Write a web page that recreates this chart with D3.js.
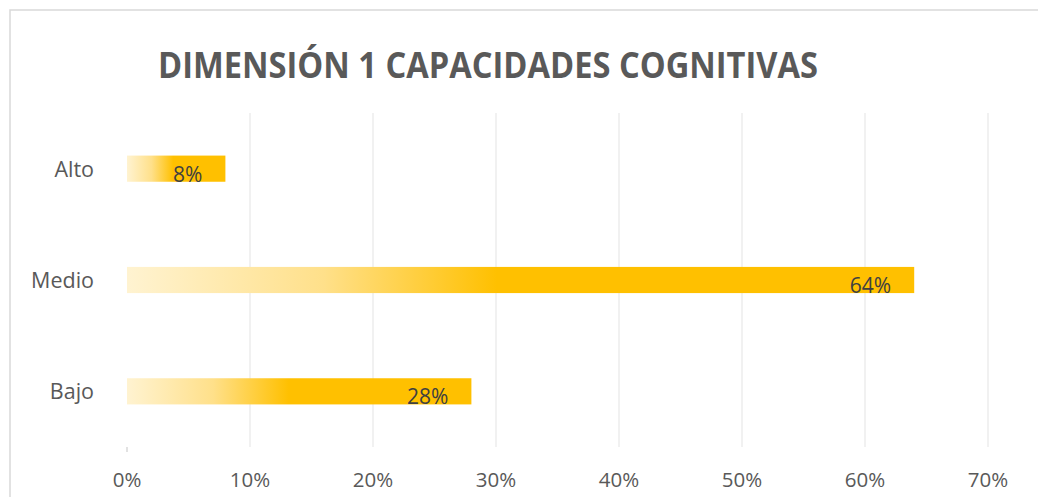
<!DOCTYPE html>
<html>
<head>
<meta charset="utf-8">
<script src="https://cdn.jsdelivr.net/npm/d3@7.9.0/dist/d3.min.js"></script>
<style>
  body { margin: 0; background: #fff; }
  svg text { font-family: "Open Sans", "Noto Sans", sans-serif; }
</style>
</head>
<body>
<svg id="chart"></svg>
<script>
const categories = ["Alto", "Medio", "Bajo"];
const values = [0.08, 0.64, 0.28];
const labels = ["8%", "64%", "28%"];
const ticks = [0, 0.1, 0.2, 0.3, 0.4, 0.5, 0.6, 0.7];
const title = "DIMENSIÓN 1 CAPACIDADES COGNITIVAS";

const width = 1038, height = 497;
const margin = {top: 113, left: 127, right: 50, bottom: 50};
const plotW = 988 - margin.left, plotH = 447 - margin.top;

const svg = d3.select("#chart").attr("width", width).attr("height", height);

// chart frame
svg.append("rect")
    .attr("x", 10).attr("y", 10)
    .attr("width", width + 20).attr("height", height + 20)
    .attr("fill", "#fff").attr("stroke", "#d9d9d9").attr("stroke-width", 1.5);

const defs = svg.append("defs");
const grad = defs.append("linearGradient").attr("id", "barGrad")
    .attr("x1", "0%").attr("x2", "100%").attr("y1", "0%").attr("y2", "0%");
grad.append("stop").attr("offset", "0%").attr("stop-color", "#fff3d1");
grad.append("stop").attr("offset", "25%").attr("stop-color", "#ffe08a");
grad.append("stop").attr("offset", "47%").attr("stop-color", "#ffc000");
grad.append("stop").attr("offset", "100%").attr("stop-color", "#ffc000");

const g = svg.append("g").attr("transform", `translate(${margin.left},${margin.top})`);

const x = d3.scaleLinear().domain([0, 0.7]).range([0, plotW]);
const y = d3.scaleBand().domain(categories).range([0, plotH]).paddingInner(0.765).paddingOuter(0.3825);

// gridlines
g.selectAll(".grid")
    .data(ticks.filter(t => t > 0))
    .enter().append("line")
    .attr("class", "grid")
    .attr("x1", d => x(d)).attr("x2", d => x(d))
    .attr("y1", 0).attr("y2", plotH)
    .attr("stroke", "#ececec").attr("stroke-width", 1.5);

// small tick at origin
g.append("line")
    .attr("x1", x(0)).attr("x2", x(0))
    .attr("y1", plotH).attr("y2", plotH + 5)
    .attr("stroke", "#d9d9d9").attr("stroke-width", 1.5);

// x tick labels
g.selectAll(".xlab")
    .data(ticks)
    .enter().append("text")
    .attr("class", "xlab")
    .attr("x", d => x(d))
    .attr("y", plotH + 40)
    .attr("text-anchor", "middle")
    .attr("font-size", 20.5)
    .attr("fill", "#595959")
    .text(d => d3.format(".0%")(d));

// category labels
g.selectAll(".ylab")
    .data(categories)
    .enter().append("text")
    .attr("class", "ylab")
    .attr("x", -33)
    .attr("y", d => y(d) + y.bandwidth() / 2 + 8)
    .attr("text-anchor", "end")
    .attr("font-size", 21.5)
    .attr("fill", "#595959")
    .text(d => d);

// bars
g.selectAll(".bar")
    .data(categories)
    .enter().append("rect")
    .attr("class", "bar")
    .attr("x", x(0))
    .attr("y", d => y(d))
    .attr("width", (d, i) => x(values[i]) - x(0))
    .attr("height", y.bandwidth())
    .attr("fill", "url(#barGrad)");

// data labels
g.selectAll(".dlab")
    .data(categories)
    .enter().append("text")
    .attr("class", "dlab")
    .attr("x", (d, i) => x(values[i]) - 23)
    .attr("y", d => y(d) + y.bandwidth())
    .attr("text-anchor", "end")
    .attr("font-size", 21)
    .attr("fill", "#404040")
    .text((d, i) => labels[i]);

// title
const t = svg.append("text")
    .attr("x", 158)
    .attr("y", 78)
    .attr("font-size", 36)
    .attr("font-weight", "bold")
    .attr("fill", "#595959")
    .text(title);
t.attr("textLength", 660).attr("lengthAdjust", "spacingAndGlyphs");
</script>
</body>
</html>
